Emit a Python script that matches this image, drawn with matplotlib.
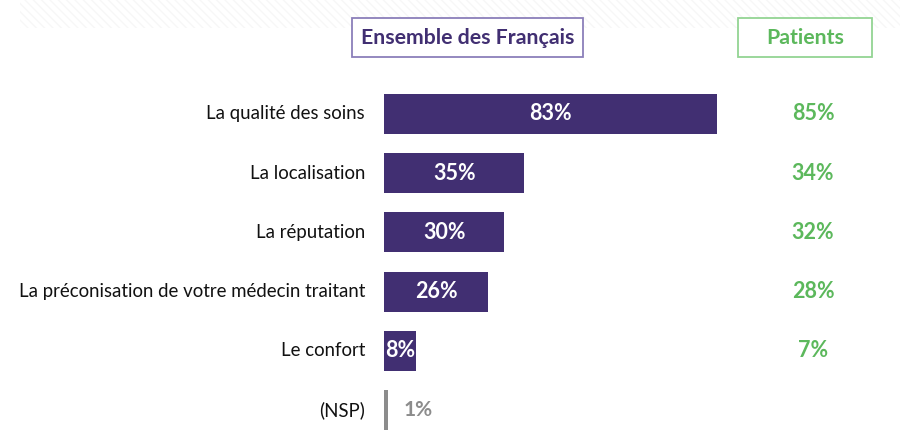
import matplotlib
matplotlib.use("Agg")
import matplotlib.pyplot as plt
from matplotlib.patches import Rectangle

categories = ["La qualité des soins", "La localisation", "La réputation",
              "La préconisation de votre médecin traitant", "Le confort", "(NSP)"]
ensemble = [83, 35, 30, 26, 8, 1]
patients = [85, 34, 32, 28, 7, None]
header_left = "Ensemble des Français"
header_right = "Patients"

PURPLE = "#412f72"
GREEN = "#5cb85c"
GREY = "#8c8c8c"
FONT = ["Lato", "DejaVu Sans"]

W, H = 900, 438
fig = plt.figure(figsize=(W / 100, H / 100), dpi=100)
fig.patch.set_facecolor("white")

# faint striped band at the top
band = fig.add_axes([20 / W, 1 - 28 / H, 880 / W, 28 / H])
band.axis("off")
band.add_patch(Rectangle((0, 0), 1, 1, transform=band.transAxes, facecolor="white",
                         edgecolor="#f7f7f7", hatch="\\\\\\\\", linewidth=0))

px_per_unit = 4.01
x0 = 384
ax = fig.add_axes([x0 / W, 0, (W - x0) / W, 1])
ax.set_xlim(0, (W - x0) / px_per_unit)
row0, step = 114, 59.2
ax.set_ylim((H - row0) / step, -row0 / step)
ax.axis("off")

ypos = list(range(len(categories)))
colors = [PURPLE] * (len(categories) - 1) + [GREY]
ax.barh(ypos, ensemble, height=40 / step, color=colors, edgecolor="none")

label_x = -19 / px_per_unit
pat_x = (813 - x0) / px_per_unit
for y, cat, v, p, c in zip(ypos, categories, ensemble, patients, colors):
    ax.text(label_x, y, cat, ha="right", va="center", fontsize=13.4,
            color="#111111", family=FONT)
    if c == GREY:
        ax.text(v + 3.8, y, f"{v}%", ha="left", va="center", fontsize=15,
                color=GREY, fontweight="bold", family=FONT)
    else:
        ax.text(v / 2, y, f"{v}%", ha="center", va="center", fontsize=15.5,
                color="white", fontweight="bold", family=FONT)
    if p is not None:
        ax.text(pat_x, y, f"{p}%", ha="center", va="center", fontsize=15.5,
                color=GREEN, fontweight="bold", family=FONT)

# header boxes
def header(x1, x2, y1, y2, text, tcol, ecol):
    fig.patches.append(Rectangle((x1 / W, 1 - y2 / H), (x2 - x1) / W, (y2 - y1) / H,
                                 transform=fig.transFigure, facecolor="white",
                                 edgecolor=ecol, linewidth=1.3))
    fig.text((x1 + x2) / 2 / W, 1 - (y1 + y2) / 2 / H, text, ha="center", va="center",
             fontsize=15.3, fontweight="bold", color=tcol, family=FONT)

header(352, 583, 18, 57, header_left, PURPLE, "#8b7fba")
header(738, 872, 18, 57, header_right, GREEN, "#93d493")

fig.savefig("out.png", dpi=100, facecolor="white")
